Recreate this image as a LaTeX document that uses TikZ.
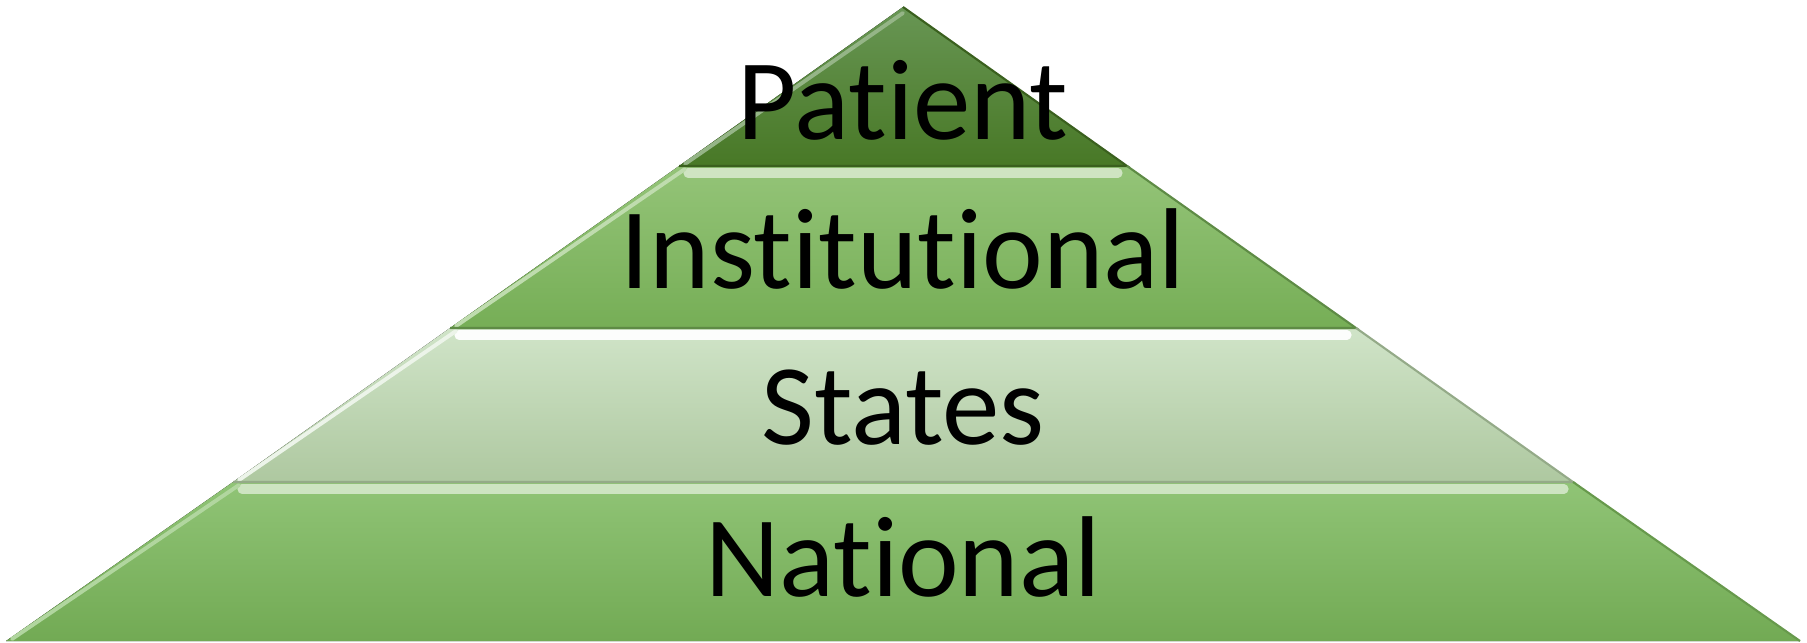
\documentclass[tikz,border=0pt]{standalone}
\usepackage{fontspec}
\setmainfont[Ligatures=NoCommon]{Carlito}
\usepackage{xcolor}
\usetikzlibrary{calc}

\definecolor{patTop}{RGB}{104,150,84}
\definecolor{patBot}{RGB}{72,120,38}
\definecolor{instTop}{RGB}{148,196,120}
\definecolor{instBot}{RGB}{118,174,86}
\definecolor{stTop}{RGB}{208,228,200}
\definecolor{stBot}{RGB}{174,200,160}
\definecolor{natTop}{RGB}{144,196,118}
\definecolor{natBot}{RGB}{114,170,84}

\tikzset{
  level/.style={font=\fontsize{32.7}{39}\selectfont, text=black, inner sep=0pt, anchor=base},
  shine/.style={line width=2.6pt, line cap=round},
  rim/.style={line width=1.1pt, line cap=round},
  seam/.style={line width=0.6pt}
}

\begin{document}
\begin{tikzpicture}[x=0.01cm, y=-0.01cm]
\useasboundingbox (0,0) rectangle (1807,643);

% corners of the pyramid
\coordinate (apex) at (903,7);
\coordinate (pl) at (679,166);  \coordinate (pr) at (1127,166);
\coordinate (il) at (450,328);  \coordinate (ir) at (1356,328);
\coordinate (sl) at (233,482);  \coordinate (sr) at (1573,482);
\coordinate (nl) at (6,641);    \coordinate (nr) at (1800,641);

% layers
\fill[top color=patTop, bottom color=patBot] (apex) -- (pr) -- (pl) -- cycle;
\fill[top color=instTop, bottom color=instBot] (pl) -- (pr) -- (ir) -- (il) -- cycle;
\fill[top color=stTop, bottom color=stBot] (il) -- (ir) -- (sr) -- (sl) -- cycle;
\fill[top color=natTop, bottom color=natBot] (sl) -- (sr) -- (nr) -- (nl) -- cycle;

% bevel light on top and left
\draw[rim, draw=patTop!70!white] ($(pl)+(6,-2)$) -- ($(apex)+(0,6)$);
\draw[shine, draw=instTop!45!white] ($(pl)+(9,7)$) -- ($(pr)+(-9,7)$);
\draw[rim, draw=instTop!60!white] ($(il)+(6,-2)$) -- ($(pl)+(6,3)$);
\draw[shine, draw=white!94!stTop] ($(il)+(9,7)$) -- ($(ir)+(-9,7)$);
\draw[rim, draw=white!60!stTop] ($(sl)+(6,-2)$) -- ($(il)+(6,3)$);
\draw[shine, draw=natTop!45!white] ($(sl)+(9,7)$) -- ($(sr)+(-9,7)$);
\draw[rim, draw=natTop!70!white] ($(nl)+(6,-2)$) -- ($(sl)+(6,3)$);

% dark seams and right rims
\draw[seam, draw=patBot!80!black] (pl) -- (pr) -- (apex);
\draw[seam, draw=instBot!80!black] (il) -- (ir) -- (pr);
\draw[seam, draw=stBot!85!black] (sl) -- (sr) -- (ir);
\draw[seam, draw=natBot!90!black] (nr) -- (sr);

% labels
\node[level] (patient) at (903,140) {Patient};
\node[level] (institutional) at (903,288) {Institutional};
\node[level] (states) at (903,444) {States};
\node[level] (national) at (903,596) {National};
\end{tikzpicture}
\end{document}
